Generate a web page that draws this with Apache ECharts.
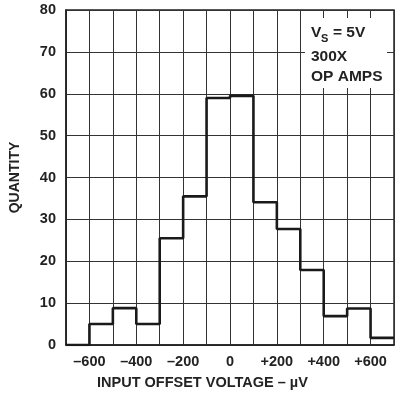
<!DOCTYPE html>
<html>
<head>
<meta charset="utf-8">
<script src="https://cdn.jsdelivr.net/npm/echarts@6/dist/echarts.min.js"></script>
<style>html,body{margin:0;padding:0;background:#fff;}#c{width:397px;height:393px;}</style>
</head>
<body>
<div id="c"></div>
<script>
// bin start (µV), bin width 100
var binStarts = [-700, -600, -500, -400, -300, -200, -100, 0, 100, 200, 300, 400, 500, 600];
var quantities = [0, 5, 8.8, 5, 25.5, 35.5, 59, 59.5, 34.1, 27.7, 17.9, 6.9, 8.7, 1.7];
var binEnd = 700;
var yTicks = [0, 10, 20, 30, 40, 50, 60, 70, 80];
var xLabelValues = [-600, -400, -200, 0, 200, 400, 600];
var annotationLines = ['300X', 'OP AMPS'];

var data = binStarts.map(function (x, i) { return [x, quantities[i]]; });
data.push([binEnd, quantities[quantities.length - 1]]);

var font = '"Liberation Sans", Arial, sans-serif';
var ink = '#222';

var chart = echarts.init(document.getElementById('c'), null, {renderer: 'canvas'});
chart.setOption({
  animation: false,
  grid: {left: 65, top: 10, width: 336, height: 335, show: true, borderColor: ink, borderWidth: 1.5, backgroundColor: 'transparent'},
  xAxis: {
    type: 'value', min: -700, max: 700, interval: 100,
    axisLine: {show: true, onZero: false, lineStyle: {color: ink, width: 1.5}},
    axisTick: {show: false},
    splitLine: {show: true, lineStyle: {color: '#333', width: 1}},
    axisLabel: {
      margin: 9, color: ink, fontFamily: font, fontWeight: 'bold', fontSize: 14.5,
      formatter: function (v) {
        if (xLabelValues.indexOf(v) < 0) return '';
        if (v < 0) return '\u2013' + Math.abs(v);
        if (v > 0) return '+' + v;
        return '0';
      }
    }
  },
  yAxis: {
    type: 'value', min: 0, max: 80, interval: 10,
    name: 'QUANTITY', nameLocation: 'middle', nameGap: 44,
    nameTextStyle: {color: ink, fontFamily: font, fontWeight: 'bold', fontSize: 14},
    axisLine: {show: true, onZero: false, lineStyle: {color: ink, width: 1.5}},
    axisTick: {show: false},
    splitLine: {show: true, lineStyle: {color: '#333', width: 1}},
    axisLabel: {
      margin: 10, color: ink, fontFamily: font, fontWeight: 'bold', fontSize: 14.5,
      formatter: function (v) { return yTicks.indexOf(v) >= 0 ? String(v) : ''; }
    }
  },
  series: [{
    type: 'line', step: 'end', data: data, symbol: 'none',
    lineStyle: {color: '#1a1a1a', width: 2.6}, z: 5
  }],
  graphic: [
    {type: 'text', left: 97, top: 375, style: {text: 'INPUT OFFSET VOLTAGE \u2013 \u00b5V', fill: ink, font: 'bold 14.5px ' + font}, z: 10},
    {type: 'rect', shape: {x: 305, y: 18, width: 82, height: 70}, style: {fill: '#fff'}, z: 20},
    {type: 'text', x: 311, y: 25, style: {text: 'V', fill: ink, font: 'bold 15.5px ' + font}, z: 21},
    {type: 'text', x: 321, y: 33, style: {text: 'S', fill: ink, font: 'bold 11px ' + font}, z: 21},
    {type: 'text', x: 333, y: 25, style: {text: '= 5V', fill: ink, font: 'bold 15.5px ' + font}, z: 21},
    {type: 'text', x: 311, y: 49, style: {text: annotationLines[0], fill: ink, font: 'bold 15.5px ' + font}, z: 21},
    {type: 'text', x: 311, y: 69, style: {text: annotationLines[1], fill: ink, font: 'bold 15.5px ' + font}, z: 21}
  ]
});
</script>
</body>
</html>
